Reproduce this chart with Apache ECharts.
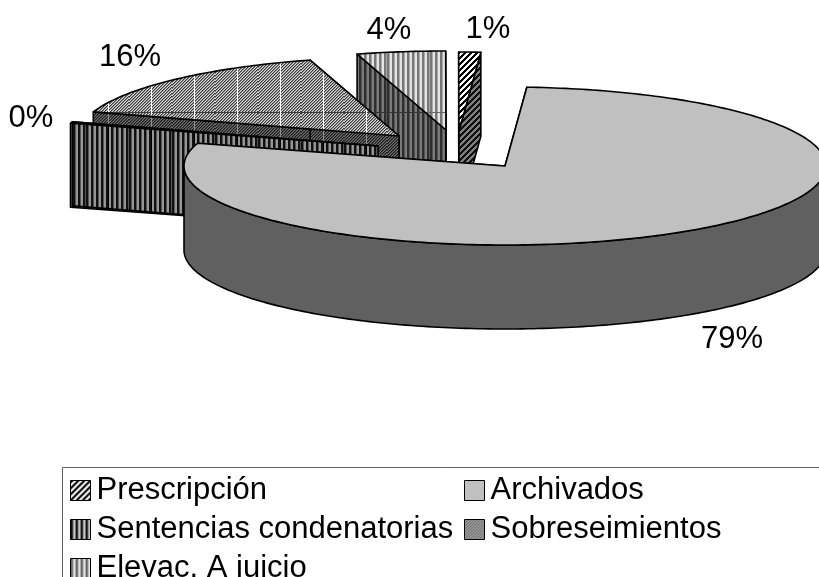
<!DOCTYPE html>
<html>
<head>
<meta charset="utf-8">
<style>html,body{margin:0;padding:0;background:#fff;overflow:hidden}#c{width:819px;height:577px}</style>
<script src="https://cdn.jsdelivr.net/npm/echarts@6/dist/echarts.min.js"></script>
</head>
<body>
<div id="c"></div>
<script>
// ---- data ----
const categories = ['Prescripción', 'Archivados', 'Sentencias condenatorias', 'Sobreseimientos', 'Elevac. A juicio'];
const values = [1.1, 78.55, 0.3, 15.6, 4.45];
// order of slices clockwise round the pie, starting at startAngle
const clockOrder = ['Archivados', 'Sentencias condenatorias', 'Sobreseimientos', 'Elevac. A juicio', 'Prescripción'];
// order of painting, back to front
const paintOrder = ['Elevac. A juicio', 'Prescripción', 'Sobreseimientos', 'Sentencias condenatorias', 'Archivados'];

// ---- layout ----
const pie = { cx: 505, cy: 166, rx: 321, ry: 79, depth: 84, startAngle: 3.9 };
const explode = {
  'Archivados': [0, 0],
  'Sentencias condenatorias': [-127, -20],
  'Sobreseimientos': [-106, -30],
  'Elevac. A juicio': [-59, -36],
  'Prescripción': [-46, -35]
};
const labelAt = {
  'Archivados': [732, 339],
  'Sentencias condenatorias': [31, 118],
  'Sobreseimientos': [130, 57],
  'Elevac. A juicio': [389, 30],
  'Prescripción': [488, 29]
};
const legendAt = {
  'Prescripción': [70, 475],
  'Sentencias condenatorias': [70, 514],
  'Elevac. A juicio': [70, 553],
  'Archivados': [464, 475],
  'Sobreseimientos': [464, 514]
};

// ---- fill patterns ----
function tile(w, h, fn) {
  const c = document.createElement('canvas');
  c.width = w; c.height = h;
  const g = c.getContext('2d');
  for (let y = 0; y < h; y++) for (let x = 0; x < w; x++) {
    g.fillStyle = fn(x, y);
    g.fillRect(x, y, 1, 1);
  }
  return { image: c, repeat: 'repeat' };
}
const SW = 43, SH = 113;              // the seams of the hatch tiles in the picture
const seamX = x => x % SW === 22, seamY = y => y % SH === 112;
const fine = (a, m, b) => (x, y) => { const k = (x + y) % 3; return k === 0 ? a : k === 1 ? m : b; };
const stripes = (a, m, b) => x => { const k = x % 5; return k < 2 ? a : k === 2 ? m : b; };
const diag = (a, b) => (x, y) => ((x + y) % 6 < 3 ? a : b);

const sobTop = fine('#3a3a3a', '#8c8c8c', '#d8d8d8'), sobSide = fine('#1c1c1c', '#444444', '#707070');
const eleTop = stripes('#777777', '#aaaaaa', '#e4e4e4'), eleSide = stripes('#2e2e2e', '#555555', '#7a7a7a');
const senSide = stripes('#111111', '#555555', '#969696');
const preTop = diag('#000000', '#ffffff'), preSide = diag('#111111', '#808080');

const fills = {
  'Archivados': { top: '#c0c0c0', side: '#606060' },
  'Sobreseimientos': {
    top: tile(SW, SH, (x, y) => seamX(x) ? '#ffffff' : seamY(y) ? '#3c3c3c' : sobTop(x, y)),
    side: tile(SW, SH, (x, y) => seamX(x) ? '#909090' : sobSide(x, y))
  },
  'Sentencias condenatorias': {
    top: tile(SW, SH, (x, y) => seamX(x) ? '#000000' : senSide(x, y)),
    side: tile(SW, SH, (x, y) => seamX(x) ? '#000000' : senSide(x, y))
  },
  'Elevac. A juicio': {
    top: tile(SW, SH, (x, y) => seamY(y) ? '#666666' : eleTop(x)),
    side: tile(SW, SH, (x, y) => seamY(y) ? '#333333' : eleSide(x))
  },
  'Prescripción': { top: tile(6, 6, preTop), side: tile(6, 6, preSide) }
};
const legendFills = {
  'Prescripción': tile(6, 6, diag('#000000', '#ffffff')),
  'Archivados': '#c0c0c0',
  'Sentencias condenatorias': tile(5, 5, stripes('#111111', '#666666', '#c8c8c8')),
  'Sobreseimientos': tile(3, 3, fine('#3a3a3a', '#8c8c8c', '#d8d8d8')),
  'Elevac. A juicio': tile(5, 5, stripes('#666666', '#999999', '#e4e4e4'))
};

// ---- slice geometry, from the values ----
const total = values.reduce((a, b) => a + b, 0);
const valueOf = n => values[categories.indexOf(n)];
const angles = {};
let run = pie.startAngle;
clockOrder.forEach(n => {
  const sweep = valueOf(n) / total * 360;
  angles[n] = [run, run + sweep];
  run += sweep;
});

function rim(px, py, deg, dy) {
  const t = deg * Math.PI / 180;
  return [px + pie.rx * Math.sin(t), py - pie.ry * Math.cos(t) + (dy || 0)];
}
function arc(px, py, a0, a1, dy) {
  const pts = [], n = Math.max(1, Math.ceil(Math.abs(a1 - a0)));
  for (let i = 0; i <= n; i++) pts.push(rim(px, py, a0 + (a1 - a0) * i / n, dy));
  return pts;
}
const edge = { stroke: '#000', lineWidth: 1.6, lineJoin: 'round' };

function renderSlice(name) {
  const [a0, a1] = angles[name];
  const px = pie.cx + explode[name][0], py = pie.cy + explode[name][1], d = pie.depth;
  const f = fills[name], kids = [];
  const poly = (points, fill) => kids.push({ type: 'polygon', silent: true, shape: { points }, style: Object.assign({ fill }, edge) });

  [a0, a1].forEach(a => {
    const o = rim(px, py, a);
    poly([[px, py], o, [o[0], o[1] + d], [px, py + d]], f.side);
  });
  const w0 = Math.max(a0, 90), w1 = Math.min(a1, 270);
  if (w1 > w0) poly(arc(px, py, w0, w1).concat(arc(px, py, w1, w0, d)), f.side);
  poly([[px, py]].concat(arc(px, py, a0, a1)), f.top);

  const pct = Math.round(valueOf(name) / total * 100) + '%';
  kids.push({
    type: 'text', silent: true,
    style: { x: labelAt[name][0], y: labelAt[name][1], text: pct, fill: '#000', font: '31px "Liberation Sans"', textAlign: 'center', textVerticalAlign: 'middle' }
  });
  return { type: 'group', children: kids };
}

const chart = echarts.init(document.getElementById('c'), null, { renderer: 'canvas' });
chart.setOption({
  animation: false,
  backgroundColor: '#ffffff',
  graphic: [{
    type: 'rect', silent: true, z: 0,
    shape: { x: 62.5, y: 467.5, width: 800, height: 200 },
    style: { fill: 'transparent', stroke: '#606060', lineWidth: 1 }
  }],
  legend: categories.map(n => ({
    orient: 'horizontal',
    left: legendAt[n][0],
    top: legendAt[n][1],
    padding: 0,
    itemWidth: 20,
    itemHeight: 20,
    icon: 'rect',
    selectedMode: false,
    textStyle: { fontFamily: 'Liberation Sans', fontSize: 31, color: '#000', padding: [0, 0, 0, 1] },
    data: [{ name: n, icon: 'rect', itemStyle: { color: legendFills[n], borderColor: '#000', borderWidth: 1 } }]
  })),
  series: paintOrder.map(name => ({
    type: 'custom',
    name,
    coordinateSystem: 'none',
    silent: true,
    data: [[valueOf(name)]],
    itemStyle: { color: name === 'Archivados' ? '#c0c0c0' : '#808080' },
    renderItem: () => renderSlice(name)
  }))
});
</script>
</body>
</html>
